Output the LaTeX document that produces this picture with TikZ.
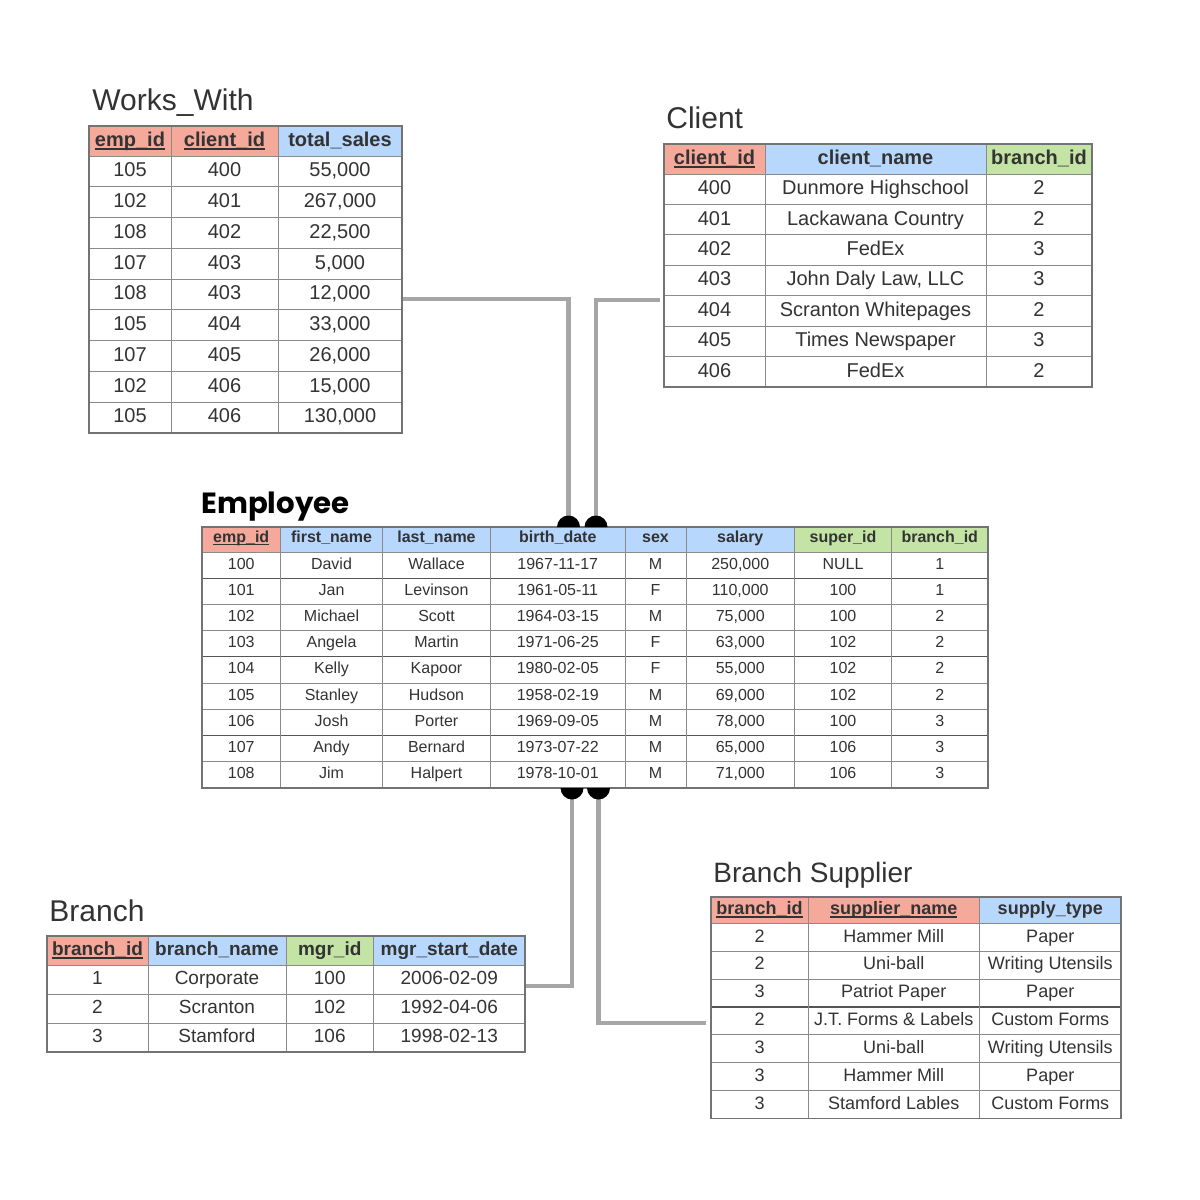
\documentclass[tikz,border=0pt]{standalone}
\usepackage{fontspec}
\setmainfont{Liberation Sans}
\newfontfamily\popfont{Poppins}
\definecolor{txt}{HTML}{333333}
\definecolor{hred}{HTML}{F4A99B}
\definecolor{hblue}{HTML}{B8D7FD}
\definecolor{hgreen}{HTML}{C3E4A5}
\definecolor{gridc}{HTML}{8A8A8A}
\definecolor{gridd}{HTML}{555555}
\definecolor{borderc}{HTML}{737373}
\definecolor{connc}{HTML}{A6A6A6}
\newcommand\keyul[1]{\setbox0=\hbox{#1}\leavevmode\rlap{\rule[-0.16em]{\wd0}{0.1em}}\box0}
\begin{document}
\begin{tikzpicture}[x=0.5pt,y=-0.5pt,
  ttl/.style={font=\fontsize{15}{18}\selectfont, text=txt, inner sep=0pt, anchor=base west},
  cellbase/.style={inner sep=0pt, text=txt, anchor=center, text depth=0pt, yshift=0.9pt},
  c20/.style={cellbase, font=\fontsize{10}{12}\selectfont, text height=7.16pt},
  h20/.style={cellbase, font=\fontsize{10}{12}\selectfont\bfseries, text height=7.16pt},
  c16/.style={cellbase, font=\fontsize{8}{10}\selectfont, text height=5.73pt},
  h16/.style={cellbase, font=\fontsize{8}{10}\selectfont\bfseries, text height=5.73pt},
  c19/.style={cellbase, font=\fontsize{9.5}{11}\selectfont, text height=6.8pt},
  h19/.style={cellbase, font=\fontsize{9.5}{11}\selectfont\bfseries, text height=6.8pt},
  c18/.style={cellbase, font=\fontsize{9}{11}\selectfont, text height=6.44pt},
  h18/.style={cellbase, font=\fontsize{9}{11}\selectfont\bfseries, text height=6.44pt},
  gridl/.style={draw=gridc, line width=0.5pt},
  gridk/.style={draw=gridd, line width=0.6pt},
  border/.style={draw=borderc, line width=0.55pt},
  conn/.style={draw=connc, line width=2.4pt}
]
\useasboundingbox[fill=white] (0,0) rectangle (1200,1200);

% ---------- connectors ----------
\coordinate (ww-out) at (402,299);
\coordinate (cl-out) at (660,300);
\coordinate (em-in1) at (568.5,527);
\coordinate (em-in2) at (596,527);
\coordinate (em-out1) at (572,788);
\coordinate (em-out2) at (598.5,788);
\coordinate (br-in) at (525,986);
\coordinate (bs-in) at (706,1023);
\draw[conn] (ww-out) -| (em-in1);
\draw[conn] (cl-out) -| (em-in2);
\draw[conn] (em-out1) |- (br-in);
\draw[conn] (em-out2) |- (bs-in);

% ---------- Works_With ----------
\node[ttl] (ww-title) at (92,110) {Works\_With};
\fill[hred] (89,126) rectangle (278,156);
\fill[hblue] (278,126) rectangle (402,156);
\draw[gridl] (89,156) -- (402,156);
\foreach \k in {1,...,8} \draw[gridl] (89,{156+\k*30.78}) -- (402,{156+\k*30.78});
\foreach \x in {171,278} \draw[gridl] (\x,126) -- (\x,433);
\draw[border] (89,126) rectangle (402,433);
\node[h20] (ww-h1) at (130,141) {\keyul{emp\_id}};
\node[h20] (ww-h2) at (224.5,141) {\keyul{client\_id}};
\node[h20] (ww-h3) at (340,141) {total\_sales};
\foreach \va/\vb/\vc [count=\i] in {105/400/{55,000},102/401/{267,000},108/402/{22,500},107/403/{5,000},108/403/{12,000},105/404/{33,000},107/405/{26,000},102/406/{15,000},105/406/{130,000}}{
  \pgfmathsetmacro\yy{156+(\i-0.5)*30.78}
  \node[c20] (ww-\i-1) at (130,\yy) {\va};
  \node[c20] (ww-\i-2) at (224.5,\yy) {\vb};
  \node[c20] (ww-\i-3) at (340,\yy) {\vc};
}

% ---------- Client ----------
\node[ttl] (cl-title) at (666,128) {Client};
\fill[hred] (664,144) rectangle (765,174);
\fill[hblue] (765,144) rectangle (986,174);
\fill[hgreen] (986,144) rectangle (1092,174);
\draw[gridl] (664,174) -- (1092,174);
\foreach \k in {1,...,6} \draw[gridl] (664,{174+\k*30.43}) -- (1092,{174+\k*30.43});
\foreach \x in {765,986} \draw[gridl] (\x,144) -- (\x,387);
\draw[border] (664,144) rectangle (1092,387);
\node[h20] (cl-h1) at (714.5,159) {\keyul{client\_id}};
\node[h20] (cl-h2) at (875.5,159) {client\_name};
\node[h20] (cl-h3) at (1039,159) {branch\_id};
\foreach \va/\vb/\vc [count=\i] in {400/Dunmore Highschool/2,401/Lackawana Country/2,402/FedEx/3,403/{John Daly Law, LLC}/3,404/Scranton Whitepages/2,405/Times Newspaper/3,406/FedEx/2}{
  \pgfmathsetmacro\yy{174+(\i-0.5)*30.43}
  \node[c20] (cl-\i-1) at (714.5,\yy) {\va};
  \node[c20] (cl-\i-2) at (875.5,\yy) {\vb};
  \node[c20] (cl-\i-3) at (1039,\yy) {\vc};
}

% ---------- Employee ----------
\node[ttl, font=\popfont\bfseries\fontsize{14.6}{17}\selectfont, text=black] (em-title) at (201,513) {Employee};
\fill[hred] (202,527) rectangle (280.5,552);
\fill[hblue] (280.5,527) rectangle (794.5,552);
\fill[hgreen] (794.5,527) rectangle (988,552);
\draw[gridl] (202,552) -- (988,552);
\foreach \k in {2,3,5,6,8} \draw[gridl] (202,{552+\k*26.22}) -- (988,{552+\k*26.22});
\foreach \k in {1,4,7} \draw[gridk] (202,{552+\k*26.22}) -- (988,{552+\k*26.22});
\foreach \x in {280.5,382.5,490.5,625,686,794.5,891.5} \draw[gridl] (\x,527) -- (\x,788);
\draw[border] (202,527) rectangle (988,788);
\node[h16] (em-h1) at (241.25,539) {\keyul{emp\_id}};
\node[h16] (em-h2) at (331.5,539) {first\_name};
\node[h16] (em-h3) at (436.5,539) {last\_name};
\node[h16] (em-h4) at (557.75,539) {birth\_date};
\node[h16] (em-h5) at (655.5,539) {sex};
\node[h16] (em-h6) at (740.25,539) {salary};
\node[h16] (em-h7) at (843,539) {super\_id};
\node[h16] (em-h8) at (939.75,539) {branch\_id};
\foreach \va/\vb/\vc/\vd/\ve/\vf/\vg/\vh [count=\i] in {
  100/David/Wallace/1967-11-17/M/{250,000}/NULL/1,
  101/Jan/Levinson/1961-05-11/F/{110,000}/100/1,
  102/Michael/Scott/1964-03-15/M/{75,000}/100/2,
  103/Angela/Martin/1971-06-25/F/{63,000}/102/2,
  104/Kelly/Kapoor/1980-02-05/F/{55,000}/102/2,
  105/Stanley/Hudson/1958-02-19/M/{69,000}/102/2,
  106/Josh/Porter/1969-09-05/M/{78,000}/100/3,
  107/Andy/Bernard/1973-07-22/M/{65,000}/106/3,
  108/Jim/Halpert/1978-10-01/M/{71,000}/106/3}{
  \pgfmathsetmacro\yy{552+(\i-0.5)*26.22}
  \node[c16] (em-\i-1) at (241.25,\yy) {\va};
  \node[c16] (em-\i-2) at (331.5,\yy) {\vb};
  \node[c16] (em-\i-3) at (436.5,\yy) {\vc};
  \node[c16] (em-\i-4) at (557.75,\yy) {\vd};
  \node[c16] (em-\i-5) at (655.5,\yy) {\ve};
  \node[c16] (em-\i-6) at (740.25,\yy) {\vf};
  \node[c16] (em-\i-7) at (843,\yy) {\vg};
  \node[c16] (em-\i-8) at (939.75,\yy) {\vh};
}

% ---------- Branch ----------
\node[ttl] (br-title) at (49,921) {Branch};
\fill[hred] (47,936) rectangle (148,965);
\fill[hblue] (148,936) rectangle (286,965);
\fill[hgreen] (286,936) rectangle (373.5,965);
\fill[hblue] (373.5,936) rectangle (525,965);
\draw[gridl] (47,965) -- (525,965);
\foreach \k in {1,2} \draw[gridl] (47,{965+\k*29}) -- (525,{965+\k*29});
\foreach \x in {148,286,373.5} \draw[gridl] (\x,936) -- (\x,1052);
\draw[border] (47,936) rectangle (525,1052);
\node[h19] (br-h1) at (97.5,950.5) {\keyul{branch\_id}};
\node[h19] (br-h2) at (217,950.5) {branch\_name};
\node[h19] (br-h3) at (329.75,950.5) {mgr\_id};
\node[h19] (br-h4) at (449.25,950.5) {mgr\_start\_date};
\foreach \va/\vb/\vc/\vd [count=\i] in {1/Corporate/100/2006-02-09,2/Scranton/102/1992-04-06,3/Stamford/106/1998-02-13}{
  \pgfmathsetmacro\yy{965+(\i-0.5)*29}
  \node[c19] (br-\i-1) at (97.5,\yy) {\va};
  \node[c19] (br-\i-2) at (217,\yy) {\vb};
  \node[c19] (br-\i-3) at (329.75,\yy) {\vc};
  \node[c19] (br-\i-4) at (449.25,\yy) {\vd};
}

% ---------- Branch Supplier ----------
\node[ttl, font=\fontsize{14}{17}\selectfont] (bs-title) at (713,882) {Branch Supplier};
\fill[hred] (711,897) rectangle (979.5,923.5);
\fill[hblue] (979.5,897) rectangle (1121,923.5);
\draw[gridl] (711,923.5) -- (1121,923.5);
\foreach \k in {1,2,4,5,6} \draw[gridl] (711,{923.5+\k*27.86}) -- (1121,{923.5+\k*27.86});
\draw[gridk] (711,{923.5+3*27.86}) -- (1121,{923.5+3*27.86});
\foreach \x in {808,979.5} \draw[gridl] (\x,897) -- (\x,1118.5);
\draw[border] (711,897) rectangle (1121,1118.5);
\node[h18] (bs-h1) at (759.5,910.25) {\keyul{branch\_id}};
\node[h18] (bs-h2) at (893.75,910.25) {\keyul{supplier\_name}};
\node[h18] (bs-h3) at (1050.25,910.25) {supply\_type};
\foreach \va/\vb/\vc [count=\i] in {2/Hammer Mill/Paper,2/Uni-ball/Writing Utensils,3/Patriot Paper/Paper,2/J.T. Forms \& Labels/Custom Forms,3/Uni-ball/Writing Utensils,3/Hammer Mill/Paper,3/Stamford Lables/Custom Forms}{
  \pgfmathsetmacro\yy{923.5+(\i-0.5)*27.86}
  \node[c18] (bs-\i-1) at (759.5,\yy) {\va};
  \node[c18] (bs-\i-2) at (893.75,\yy) {\vb};
  \node[c18] (bs-\i-3) at (1050.25,\yy) {\vc};
}

% ---------- connector ends (half discs) ----------
\fill[black] (em-in1) ++(-11.5,0) arc[start angle=180,end angle=360,radius=11.5] -- cycle;
\fill[black] (em-in2) ++(-11.5,0) arc[start angle=180,end angle=360,radius=11.5] -- cycle;
\fill[black] (em-out1) ++(-11.5,0) arc[start angle=180,end angle=0,radius=11.5] -- cycle;
\fill[black] (em-out2) ++(-11.5,0) arc[start angle=180,end angle=0,radius=11.5] -- cycle;
\end{tikzpicture}
\end{document}
